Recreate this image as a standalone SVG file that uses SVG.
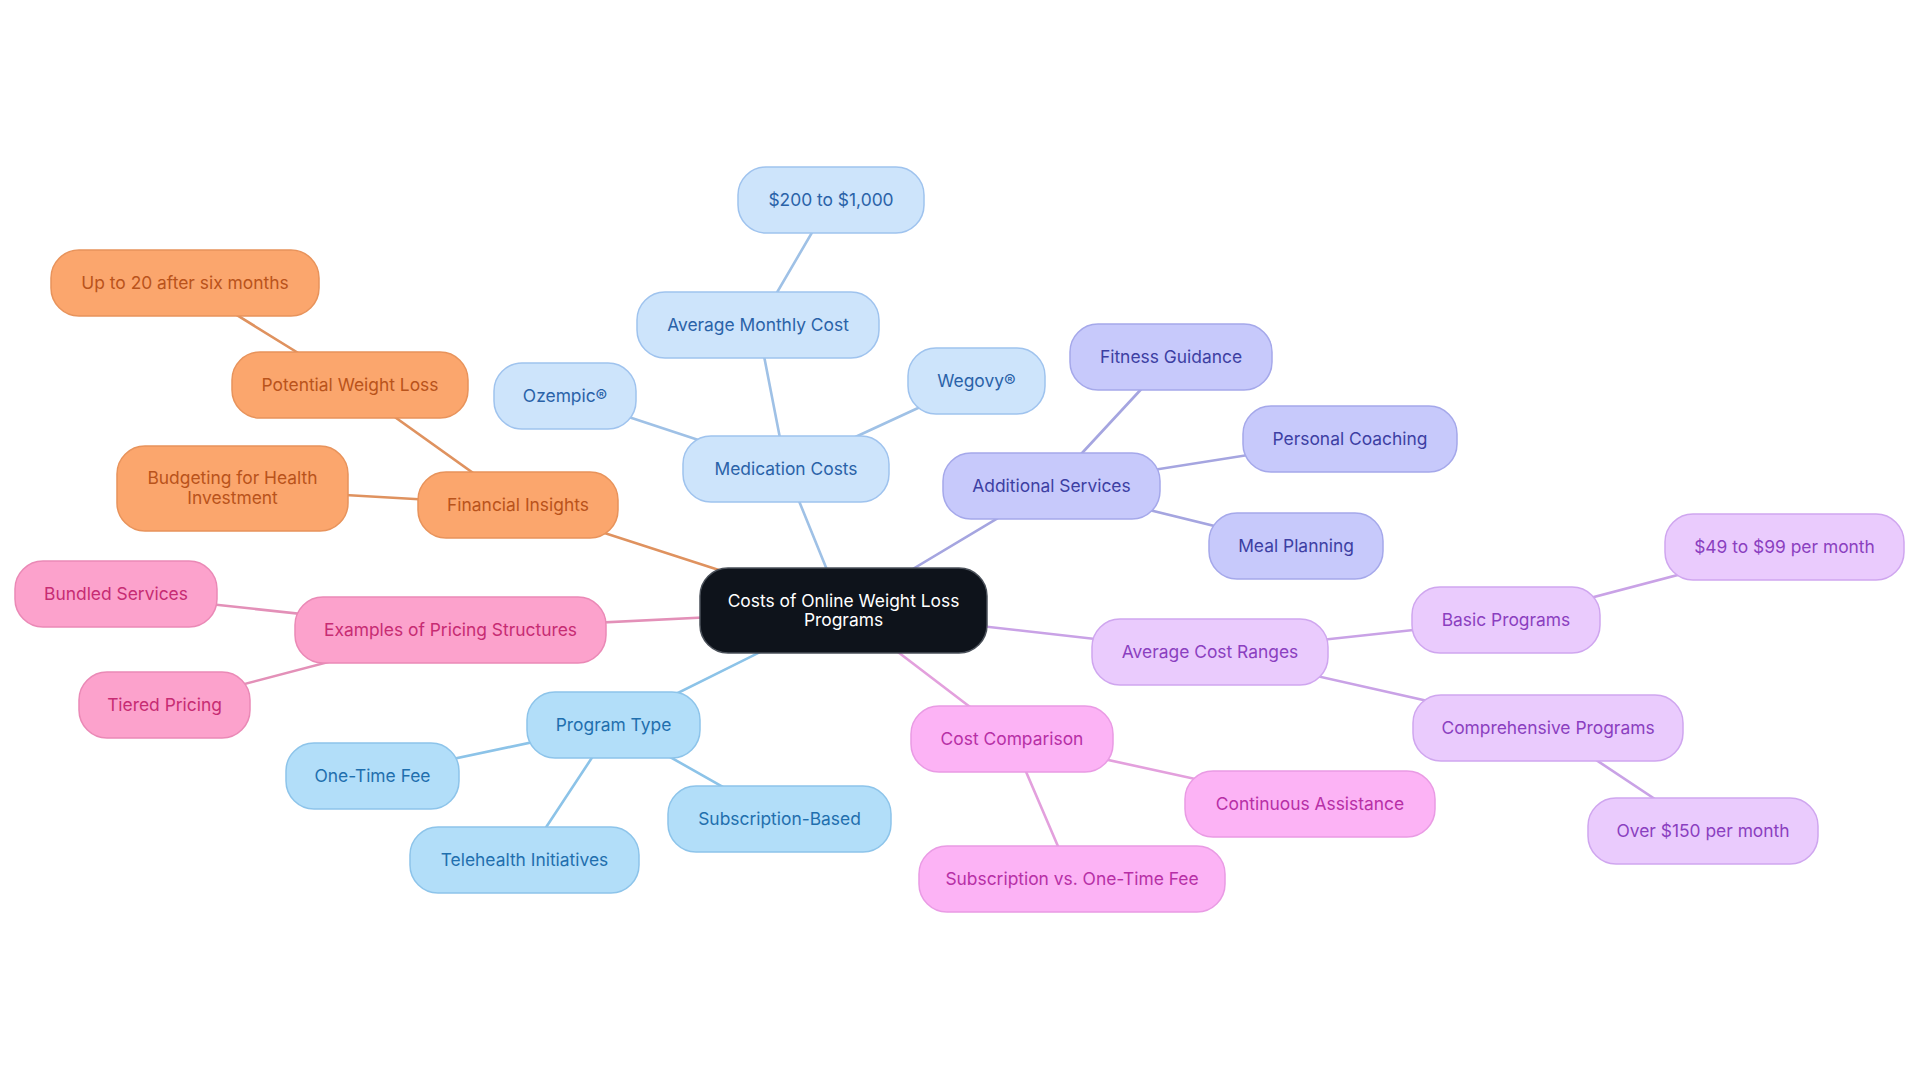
<svg xmlns="http://www.w3.org/2000/svg" width="1920" height="1083" viewBox="0 0 1920 1083">
<style>
text{font-family:Inter,"Noto Sans","Liberation Sans",sans-serif;font-size:17.4px;text-anchor:middle}
rect{stroke-width:1.5}
.edge{fill:none;stroke-width:2.6;stroke-linecap:round}
.root rect{fill:#0e131b;stroke:#4a5059}
.root text{fill:#ffffff}
.med rect{fill:#cde4fb;stroke:#9fc3ee}
.med text{fill:#2a62a8}
.e-med{stroke:#9fc1e6}
.add rect{fill:#c7c9fb;stroke:#a5a8ea}
.add text{fill:#3d3fa3}
.e-add{stroke:#a5a5e0}
.avg rect{fill:#eacbfd;stroke:#cfa6ef}
.avg text{fill:#8b3fc0}
.e-avg{stroke:#c9a2e6}
.cmp rect{fill:#fcb3f5;stroke:#e99be4}
.cmp text{fill:#b72fa6}
.e-cmp{stroke:#e3a0dd}
.prg rect{fill:#b2def9;stroke:#8dc4ea}
.prg text{fill:#1f6fae}
.e-prg{stroke:#8cc3e8}
.exa rect{fill:#fca2cc;stroke:#ea89b6}
.exa text{fill:#c72c73}
.e-exa{stroke:#e390b8}
.fin rect{fill:#fba66d;stroke:#e8935b}
.fin text{fill:#b9531b}
.e-fin{stroke:#df925f}
</style>
<rect x="0" y="0" width="1920" height="1083" fill="#ffffff" stroke="none"/>
<g id="connectors">
<line class="edge e-med" x1="843.5" y1="610.5" x2="786" y2="469"/>
<line class="edge e-med" x1="786" y1="469" x2="758" y2="325"/>
<line class="edge e-med" x1="758" y1="325" x2="831" y2="200"/>
<line class="edge e-med" x1="786" y1="469" x2="565" y2="396"/>
<line class="edge e-med" x1="786" y1="469" x2="976.5" y2="381"/>
<line class="edge e-add" x1="843.5" y1="610.5" x2="1051.5" y2="486"/>
<line class="edge e-add" x1="1051.5" y1="486" x2="1171" y2="357"/>
<line class="edge e-add" x1="1051.5" y1="486" x2="1350" y2="439"/>
<line class="edge e-add" x1="1051.5" y1="486" x2="1296" y2="546"/>
<line class="edge e-avg" x1="843.5" y1="610.5" x2="1210" y2="652"/>
<line class="edge e-avg" x1="1210" y1="652" x2="1506" y2="620"/>
<line class="edge e-avg" x1="1506" y1="620" x2="1784.5" y2="547"/>
<line class="edge e-avg" x1="1210" y1="652" x2="1548" y2="728"/>
<line class="edge e-avg" x1="1548" y1="728" x2="1703" y2="831"/>
<line class="edge e-cmp" x1="843.5" y1="610.5" x2="1012" y2="739"/>
<line class="edge e-cmp" x1="1012" y1="739" x2="1310" y2="804"/>
<line class="edge e-cmp" x1="1012" y1="739" x2="1072" y2="879"/>
<line class="edge e-prg" x1="843.5" y1="610.5" x2="613.5" y2="725"/>
<line class="edge e-prg" x1="613.5" y1="725" x2="372.5" y2="776"/>
<line class="edge e-prg" x1="613.5" y1="725" x2="524.5" y2="860"/>
<line class="edge e-prg" x1="613.5" y1="725" x2="779.5" y2="819"/>
<line class="edge e-exa" x1="843.5" y1="610.5" x2="450.5" y2="630"/>
<line class="edge e-exa" x1="450.5" y1="630" x2="116" y2="594"/>
<line class="edge e-exa" x1="450.5" y1="630" x2="164.5" y2="705"/>
<line class="edge e-fin" x1="843.5" y1="610.5" x2="518" y2="505"/>
<line class="edge e-fin" x1="518" y1="505" x2="350" y2="385"/>
<line class="edge e-fin" x1="350" y1="385" x2="185" y2="283"/>
<line class="edge e-fin" x1="518" y1="505" x2="232.5" y2="488.5"/>
</g>
<g id="node-root" class="root"><rect x="700" y="568" width="287" height="85" rx="28"/><text x="843.5" y="607">Costs of Online Weight Loss</text><text x="843.5" y="626">Programs</text></g>
<g id="node-medication-costs" class="med"><rect x="683" y="436" width="206" height="66" rx="28"/><text x="786" y="475">Medication Costs</text></g>
<g id="node-average-monthly-cost" class="med"><rect x="637" y="292" width="242" height="66" rx="28"/><text x="758" y="331">Average Monthly Cost</text></g>
<g id="node-200-to-1000" class="med"><rect x="738" y="167" width="186" height="66" rx="28"/><text x="831" y="206">$200 to $1,000</text></g>
<g id="node-ozempic" class="med"><rect x="494" y="363" width="142" height="66" rx="28"/><text x="565" y="402">Ozempic®</text></g>
<g id="node-wegovy" class="med"><rect x="908" y="348" width="137" height="66" rx="28"/><text x="976.5" y="387">Wegovy®</text></g>
<g id="node-additional-services" class="add"><rect x="943" y="453" width="217" height="66" rx="28"/><text x="1051.5" y="492">Additional Services</text></g>
<g id="node-fitness-guidance" class="add"><rect x="1070" y="324" width="202" height="66" rx="28"/><text x="1171" y="363">Fitness Guidance</text></g>
<g id="node-personal-coaching" class="add"><rect x="1243" y="406" width="214" height="66" rx="28"/><text x="1350" y="445">Personal Coaching</text></g>
<g id="node-meal-planning" class="add"><rect x="1209" y="513" width="174" height="66" rx="28"/><text x="1296" y="552">Meal Planning</text></g>
<g id="node-average-cost-ranges" class="avg"><rect x="1092" y="619" width="236" height="66" rx="28"/><text x="1210" y="658">Average Cost Ranges</text></g>
<g id="node-basic-programs" class="avg"><rect x="1412" y="587" width="188" height="66" rx="28"/><text x="1506" y="626">Basic Programs</text></g>
<g id="node-49-to-99" class="avg"><rect x="1665" y="514" width="239" height="66" rx="28"/><text x="1784.5" y="553">$49 to $99 per month</text></g>
<g id="node-comprehensive-programs" class="avg"><rect x="1413" y="695" width="270" height="66" rx="28"/><text x="1548" y="734">Comprehensive Programs</text></g>
<g id="node-over-150" class="avg"><rect x="1588" y="798" width="230" height="66" rx="28"/><text x="1703" y="837">Over $150 per month</text></g>
<g id="node-cost-comparison" class="cmp"><rect x="911" y="706" width="202" height="66" rx="28"/><text x="1012" y="745">Cost Comparison</text></g>
<g id="node-continuous-assistance" class="cmp"><rect x="1185" y="771" width="250" height="66" rx="28"/><text x="1310" y="810">Continuous Assistance</text></g>
<g id="node-subscription-vs" class="cmp"><rect x="919" y="846" width="306" height="66" rx="28"/><text x="1072" y="885">Subscription vs. One-Time Fee</text></g>
<g id="node-program-type" class="prg"><rect x="527" y="692" width="173" height="66" rx="28"/><text x="613.5" y="731">Program Type</text></g>
<g id="node-one-time-fee" class="prg"><rect x="286" y="743" width="173" height="66" rx="28"/><text x="372.5" y="782">One-Time Fee</text></g>
<g id="node-telehealth" class="prg"><rect x="410" y="827" width="229" height="66" rx="28"/><text x="524.5" y="866">Telehealth Initiatives</text></g>
<g id="node-subscription-based" class="prg"><rect x="668" y="786" width="223" height="66" rx="28"/><text x="779.5" y="825">Subscription-Based</text></g>
<g id="node-examples" class="exa"><rect x="295" y="597" width="311" height="66" rx="28"/><text x="450.5" y="636">Examples of Pricing Structures</text></g>
<g id="node-bundled-services" class="exa"><rect x="15" y="561" width="202" height="66" rx="28"/><text x="116" y="600">Bundled Services</text></g>
<g id="node-tiered-pricing" class="exa"><rect x="79" y="672" width="171" height="66" rx="28"/><text x="164.5" y="711">Tiered Pricing</text></g>
<g id="node-financial-insights" class="fin"><rect x="418" y="472" width="200" height="66" rx="28"/><text x="518" y="511">Financial Insights</text></g>
<g id="node-potential-weight-loss" class="fin"><rect x="232" y="352" width="236" height="66" rx="28"/><text x="350" y="391">Potential Weight Loss</text></g>
<g id="node-up-to-20" class="fin"><rect x="51" y="250" width="268" height="66" rx="28"/><text x="185" y="289">Up to 20 after six months</text></g>
<g id="node-budgeting" class="fin"><rect x="117" y="446" width="231" height="85" rx="28"/><text x="232.5" y="484">Budgeting for Health</text><text x="232.5" y="504">Investment</text></g>
</svg>
